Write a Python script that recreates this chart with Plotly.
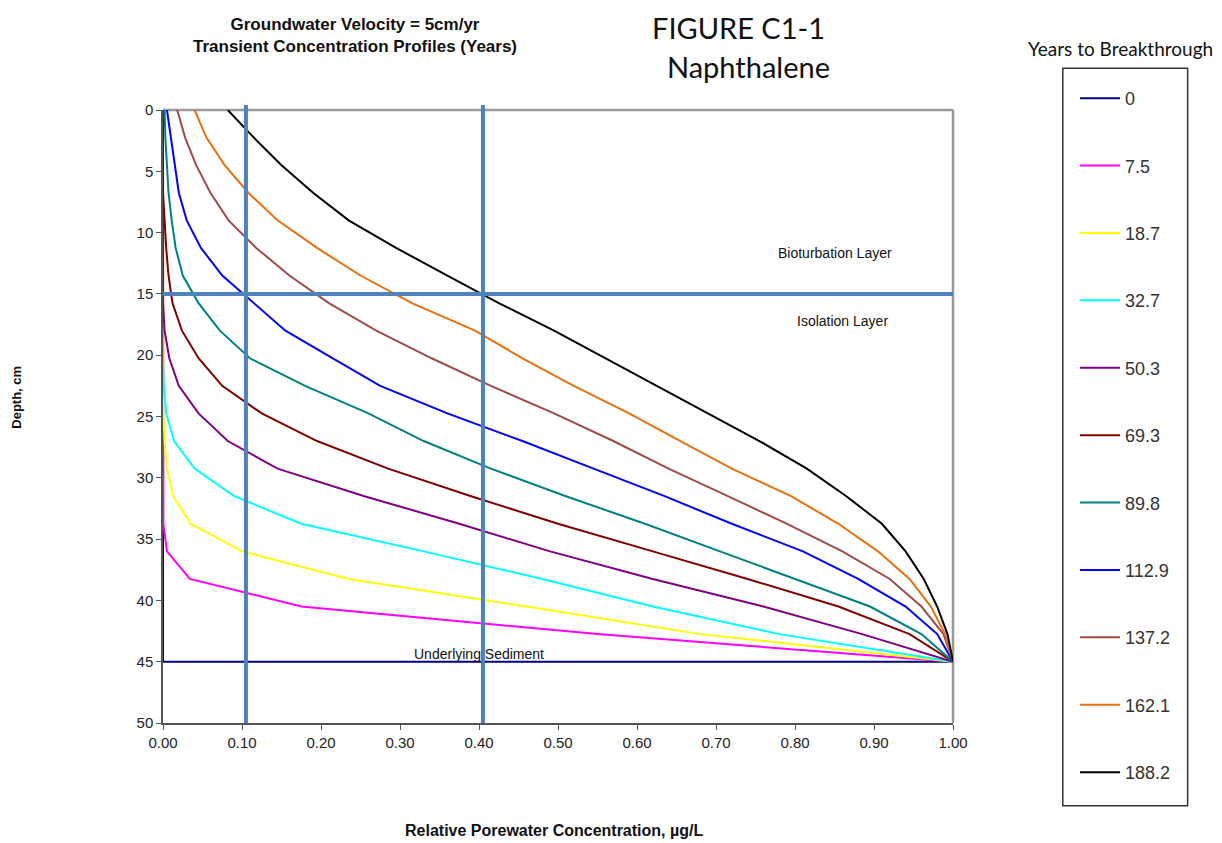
import plotly.graph_objects as go

# depth grid (cm) used by the transient profiles
depth = [0, 2.25, 4.5, 6.75, 9, 11.25, 13.5, 15.75, 18, 20.25, 22.5,
         24.75, 27, 29.25, 31.5, 33.75, 36, 38.25, 40.5, 42.75, 45]

years = ["0", "7.5", "18.7", "32.7", "50.3", "69.3", "89.8", "112.9", "137.2", "162.1", "188.2"]

# year 0: clean cap, concentration only at the sediment interface
depth_y0 = [0, 45, 45]
conc_y0 = [0, 0, 1]

conc_7_5 = [0, 0, 0, 0, 0, 0, 0, 0, 0, 0, 0,
            0, 0, 0, 0, 0.0005, 0.005, 0.034, 0.175, 0.55, 1]
conc_18_7 = [0, 0, 0, 0, 0, 0, 0, 0, 0, 0, 0,
             0.0005, 0.002, 0.005, 0.013, 0.035, 0.10, 0.235, 0.46, 0.68, 1]
conc_32_7 = [0, 0, 0, 0, 0, 0, 0, 0, 0, 0, 0.001,
             0.004, 0.014, 0.04, 0.09, 0.175, 0.33, 0.48, 0.62, 0.78, 1]
conc_50_3 = [0, 0, 0, 0, 0, 0, 0, 0, 0.002, 0.008, 0.02,
             0.045, 0.082, 0.145, 0.255, 0.375, 0.49, 0.62, 0.76, 0.885, 1]
conc_69_3 = [0, 0, 0, 0, 0.002, 0.004, 0.007, 0.012, 0.024, 0.045, 0.075,
             0.125, 0.195, 0.285, 0.39, 0.50, 0.62, 0.74, 0.855, 0.945, 1]
conc_89_8 = [0.002, 0.003, 0.005, 0.007, 0.011, 0.016, 0.025, 0.045, 0.072, 0.11, 0.18,
             0.26, 0.33, 0.415, 0.51, 0.61, 0.705, 0.80, 0.895, 0.96, 1]
conc_112_9 = [0.005, 0.01, 0.015, 0.02, 0.03, 0.048, 0.075, 0.115, 0.155, 0.215, 0.275,
              0.36, 0.455, 0.545, 0.635, 0.72, 0.81, 0.88, 0.94, 0.98, 1]
conc_137_2 = [0.018, 0.028, 0.042, 0.06, 0.083, 0.118, 0.16, 0.21, 0.27, 0.34, 0.415,
              0.495, 0.57, 0.64, 0.715, 0.79, 0.86, 0.92, 0.96, 0.988, 1]
conc_162_1 = [0.04, 0.055, 0.078, 0.108, 0.145, 0.195, 0.25, 0.315, 0.395, 0.455, 0.52,
              0.59, 0.655, 0.72, 0.795, 0.855, 0.905, 0.945, 0.972, 0.99, 1]
conc_188_2 = [0.082, 0.115, 0.15, 0.19, 0.235, 0.295, 0.36, 0.425, 0.495, 0.56, 0.625,
              0.69, 0.755, 0.815, 0.865, 0.91, 0.94, 0.963, 0.98, 0.993, 1]

colors = ["#000080", "#FF00FF", "#FFFF00", "#00FFFF", "#800080", "#800000",
          "#008080", "#0000FF", "#9E4B4B", "#E8700F", "#000000"]

# reference lines: layer boundary depth and marker concentrations
layer_depth = 15
marker_conc = [0.105, 0.405]

profiles = [conc_y0, conc_7_5, conc_18_7, conc_32_7, conc_50_3, conc_69_3,
            conc_89_8, conc_112_9, conc_137_2, conc_162_1, conc_188_2]

fig = go.Figure()

for i, (name, conc) in enumerate(zip(years, profiles)):
    ys = depth_y0 if i == 0 else depth
    fig.add_trace(go.Scatter(
        x=conc, y=ys, mode='lines', name=name,
        legendgroup=name,
        line=dict(color=colors[i], width=2),
    ))

# gray frame on top and right
fig.add_shape(type='line', xref='paper', yref='paper', x0=0, x1=1, y0=1, y1=1,
              line=dict(color='#999999', width=2.5), layer='below')
fig.add_shape(type='line', xref='paper', yref='paper', x0=1, x1=1, y0=0, y1=1,
              line=dict(color='#999999', width=2.5), layer='below')

# blue reference lines
line_blue = '#4F81BD'
for xv in marker_conc:
    fig.add_shape(type='line', xref='x', yref='paper', x0=xv, x1=xv, y0=0, y1=1.008,
                  line=dict(color=line_blue, width=4))
fig.add_shape(type='line', xref='paper', yref='y', x0=0, x1=1, y0=layer_depth, y1=layer_depth,
              line=dict(color=line_blue, width=4))

# legend box
fig.add_shape(type='rect', xref='paper', yref='paper', x0=1.139, x1=1.297, y0=-0.135, y1=1.068,
              line=dict(color='#333333', width=1.5))


def note(text, x, y, size, family=None, xref='paper', yref='paper', angle=0):
    f = dict(size=size, color='#111111')
    if family:
        f['family'] = family
    return dict(text=text, x=x, y=y, xref=xref, yref=yref, showarrow=False,
                xanchor='center', yanchor='middle', align='center', textangle=angle, font=f)


# the page body adds an 8px offset, so the figure is sized 8px smaller
fig.update_layout(
    width=1214, height=835,
    margin=dict(l=155, r=269, t=102, b=120, autoexpand=False),
    paper_bgcolor='white', plot_bgcolor='white',
    font=dict(family='Arial, Liberation Sans, sans-serif', size=15, color='#222222'),
    showlegend=True,
    legend=dict(
        x=1.1545, y=1.049, xanchor='left', yanchor='top',
        font=dict(family='Arial, Liberation Sans, sans-serif', size=18, color='#333333'),
        tracegroupgap=41, bgcolor='rgba(0,0,0,0)', borderwidth=0,
        itemwidth=40, maxheight=800,
    ),
    annotations=[
        note("<b>Groundwater Velocity = 5cm/yr<br>Transient Concentration Profiles (Years)</b>",
             0.243, 1.121, 17),
        note("FIGURE C1-1", 0.728, 1.135, 29, 'Lato, sans-serif'),
        note("Naphthalene", 0.741, 1.071, 29, 'Lato, sans-serif'),
        note("Years to Breakthrough", 1.212, 1.101, 19, 'Lato, sans-serif'),
        note("<b>Depth, cm</b>", -0.185, 0.532, 13, angle=-90),
        note("<b>Relative Porewater Concentration, µg/L</b>", 0.495, -0.176, 16),
        note("Bioturbation Layer", 0.85, 11.7, 14, xref='x', yref='y'),
        note("Isolation Layer", 0.86, 17.2, 14, xref='x', yref='y'),
        note("Underlying Sediment", 0.40, 44.4, 14, xref='x', yref='y'),
    ],
)

fig.update_xaxes(range=[0, 1], dtick=0.1, tickformat='.2f', showgrid=False, zeroline=False,
                 showline=True, linecolor='#555555', linewidth=1.5, mirror=False,
                 ticks='outside', ticklen=5, tickcolor='#555555')
fig.update_yaxes(range=[50, 0], dtick=5, showgrid=False, zeroline=False,
                 showline=True, linecolor='#555555', linewidth=1.5, mirror=False,
                 ticks='outside', ticklen=5, tickcolor='#555555')

fig.write_html("out.html")
